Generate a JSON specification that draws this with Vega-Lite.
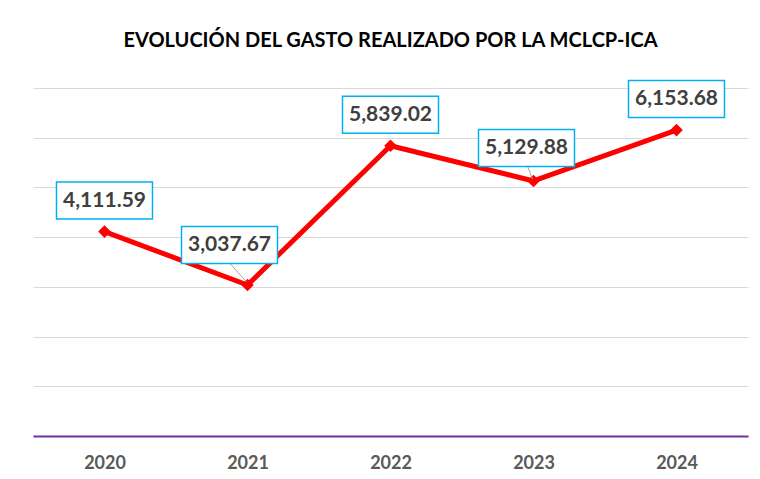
{
  "$schema": "https://vega.github.io/schema/vega-lite/v6.json",
  "width": 715,
  "height": 348,
  "autosize": {"type": "none"},
  "padding": {"left": 33, "top": 88, "right": 12, "bottom": 43},
  "background": "white",
  "config": {
    "view": {"stroke": null},
    "font": "Lato"
  },
  "title": {
    "text": "EVOLUCIÓN DEL GASTO REALIZADO POR LA MCLCP-ICA",
    "font": "Lato",
    "fontSize": 20,
    "fontWeight": "bold",
    "color": "#000000",
    "anchor": "middle",
    "offset": 27
  },
  "data": {
    "values": [
      {"year": "2020", "value": 4111.59},
      {"year": "2021", "value": 3037.67},
      {"year": "2022", "value": 5839.02},
      {"year": "2023", "value": 5129.88},
      {"year": "2024", "value": 6153.68}
    ]
  },
  "encoding": {
    "x": {
      "field": "year",
      "type": "ordinal",
      "scale": {"type": "point", "padding": 0.5},
      "axis": {
        "title": null,
        "labelAngle": 0,
        "labelFont": "Lato",
        "labelFontSize": 18,
        "labelFontWeight": "bold",
        "labelColor": "#595959",
        "labelPadding": 18,
        "ticks": false,
        "grid": false,
        "domainColor": "#7030A0",
        "domainWidth": 2,
        "zindex": 1
      }
    },
    "y": {
      "field": "value",
      "type": "quantitative",
      "scale": {"domain": [0, 7000], "nice": false},
      "axis": {
        "title": null,
        "labels": false,
        "ticks": false,
        "domain": false,
        "grid": true,
        "gridColor": "#D9D9D9",
        "gridWidth": 1,
        "values": [0, 1000, 2000, 3000, 4000, 5000, 6000, 7000]
      }
    }
  },
  "layer": [
    {
      "mark": {
        "type": "line",
        "color": "#FF0000",
        "strokeWidth": 5,
        "strokeJoin": "round",
        "point": {"shape": "diamond", "size": 160, "filled": true, "color": "#FF0000"}
      }
    },
    {
      "transform": [{"filter": "datum.year === '2021'"}],
      "mark": {"type": "rule", "color": "#A6A6A6", "strokeWidth": 1, "xOffset": -17, "yOffset": -21, "x2Offset": -1, "y2Offset": -3},
      "encoding": {
        "x2": {"field": "year"},
        "y2": {"field": "value"}
      }
    },
    {
      "transform": [{"filter": "datum.year === '2023'"}],
      "mark": {"type": "rule", "color": "#A6A6A6", "strokeWidth": 1, "xOffset": -6, "yOffset": -15, "x2Offset": -1, "y2Offset": -2},
      "encoding": {
        "x2": {"field": "year"},
        "y2": {"field": "value"}
      }
    },
    {
      "transform": [{"filter": "datum.year === '2020' || datum.year === '2022' || datum.year === '2024'"}],
      "mark": {"type": "point", "shape": "M-1,-0.385L1,-0.385L1,0.385L-1,0.385Z", "size": 9216, "fill": "white", "stroke": "#00B0F0", "strokeWidth": 1.5, "opacity": 1, "fillOpacity": 1, "yOffset": -31}
    },
    {
      "transform": [{"filter": "datum.year === '2021'"}],
      "mark": {"type": "point", "shape": "M-1,-0.385L1,-0.385L1,0.385L-1,0.385Z", "size": 9216, "fill": "white", "stroke": "#00B0F0", "strokeWidth": 1.5, "opacity": 1, "fillOpacity": 1, "xOffset": -18, "yOffset": -40}
    },
    {
      "transform": [{"filter": "datum.year === '2023'"}],
      "mark": {"type": "point", "shape": "M-1,-0.385L1,-0.385L1,0.385L-1,0.385Z", "size": 9216, "fill": "white", "stroke": "#00B0F0", "strokeWidth": 1.5, "opacity": 1, "fillOpacity": 1, "xOffset": -7, "yOffset": -33}
    },
    {
      "transform": [{"filter": "datum.year === '2020' || datum.year === '2022' || datum.year === '2024'"}],
      "mark": {"type": "text", "font": "Lato", "fontSize": 21, "fontWeight": "bold", "color": "#404040", "baseline": "middle", "align": "center", "yOffset": -31},
      "encoding": {"text": {"field": "value", "type": "quantitative", "format": ",.2f"}}
    },
    {
      "transform": [{"filter": "datum.year === '2021'"}],
      "mark": {"type": "text", "font": "Lato", "fontSize": 21, "fontWeight": "bold", "color": "#404040", "baseline": "middle", "align": "center", "xOffset": -18, "yOffset": -40},
      "encoding": {"text": {"field": "value", "type": "quantitative", "format": ",.2f"}}
    },
    {
      "transform": [{"filter": "datum.year === '2023'"}],
      "mark": {"type": "text", "font": "Lato", "fontSize": 21, "fontWeight": "bold", "color": "#404040", "baseline": "middle", "align": "center", "xOffset": -7, "yOffset": -33},
      "encoding": {"text": {"field": "value", "type": "quantitative", "format": ",.2f"}}
    }
  ]
}
